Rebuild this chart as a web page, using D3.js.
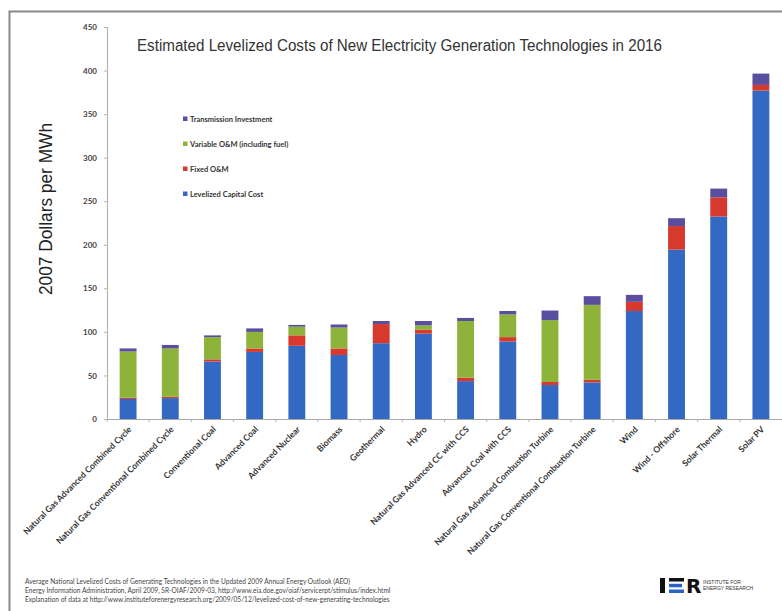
<!DOCTYPE html>
<html>
<head>
<meta charset="utf-8">
<script src="https://cdn.jsdelivr.net/npm/d3@7"></script>
<style>
  html, body { margin: 0; padding: 0; background: #fff; }
  svg { display: block; }
</style>
</head>
<body>
<svg id="chart" width="782" height="611"></svg>
<script>
// Levelized cost components (2007 $/MWh), plants entering service in 2016
const categories = [
  "Natural Gas Advanced Combined Cycle",
  "Natural Gas Conventional Combined Cycle",
  "Conventional Coal",
  "Advanced Coal",
  "Advanced Nuclear",
  "Biomass",
  "Geothermal",
  "Hydro",
  "Natural Gas Advanced CC with CCS",
  "Advanced Coal with CCS",
  "Natural Gas Advanced Combustion Turbine",
  "Natural Gas Conventional Combustion Turbine",
  "Wind",
  "Wind - Offshore",
  "Solar Thermal",
  "Solar PV"
];
const capitalCost   = [23, 24, 66, 77, 84, 73.5, 87, 98, 43.5, 89, 39, 42, 124, 194.5, 232.5, 377];
const fixedOM       = [1.5, 1.5, 2.5, 4, 12, 7.5, 22, 4.5, 4, 5, 3.5, 3, 10.5, 27, 22, 6.5];
const variableOM    = [53, 55.5, 25.5, 19, 10, 24, 0, 5, 65, 26, 71, 86, 0, 0, 0, 0];
const transmission  = [3.5, 4, 2, 4, 2, 3.5, 3.5, 5, 3.5, 4, 11, 10, 8, 9, 10, 13];

const seriesKeys   = ["capital", "fixed", "variable", "transmission"];
const seriesLabels = ["Levelized Capital Cost", "Fixed O&M", "Variable O&M (including fuel)", "Transmission Investment"];
const yTicks = [0, 50, 100, 150, 200, 250, 300, 350, 400, 450];

const colors = {
  capital: "#3369c2",
  fixed: "#d7392c",
  variable: "#8db33b",
  transmission: "#5a4f9f"
};

const rows = categories.map((c, i) => ({
  name: c,
  capital: capitalCost[i],
  fixed: fixedOM[i],
  variable: variableOM[i],
  transmission: transmission[i]
}));

const svg = d3.select("#chart");
const W = 782, H = 611;
const plot = { left: 107, right: 782, top: 27, bottom: 419 };

// Frame around the slide
svg.append("path")
  .attr("d", `M9.5,${H} L9.5,11.5 L${W},11.5`)
  .attr("fill", "none")
  .attr("stroke", "#8a8a8a")
  .attr("stroke-width", 2);

const x = d3.scaleBand()
  .domain(categories)
  .range([plot.left, plot.right])
  .paddingInner(0.6)
  .paddingOuter(0.3);

const y = d3.scaleLinear()
  .domain([0, 450])
  .range([plot.bottom, plot.top]);

const stack = d3.stack().keys(seriesKeys);
const stacked = stack(rows);

// Stacked bars
svg.append("g")
  .selectAll("g")
  .data(stacked)
  .join("g")
  .attr("fill", d => colors[d.key])
  .selectAll("rect")
  .data(d => d)
  .join("rect")
  .attr("x", d => x(d.data.name))
  .attr("width", x.bandwidth())
  .attr("y", d => y(d[1]))
  .attr("height", d => Math.max(0, y(d[0]) - y(d[1])));

// Y axis
const yAxis = svg.append("g")
  .attr("transform", `translate(${plot.left},0)`)
  .call(d3.axisLeft(y).tickValues(yTicks).tickSize(3).tickPadding(7));
yAxis.select(".domain").attr("stroke", "#b5b5b5").attr("stroke-width", 1.2);
yAxis.selectAll(".tick line").attr("stroke", "#b5b5b5");
yAxis.selectAll(".tick text")
  .attr("fill", "#444")
  .style("font-family", "Lato, 'Open Sans', sans-serif")
  .style("font-size", "8px")
  .style("font-weight", "bold");

// X axis: baseline with ticks between categories
const xg = svg.append("g");
xg.append("line")
  .attr("x1", plot.left).attr("x2", plot.right)
  .attr("y1", y(0) + 0.5).attr("y2", y(0) + 0.5)
  .attr("stroke", "#a8a8a8").attr("stroke-width", 1.2);
xg.selectAll("line.sep")
  .data(categories)
  .join("line")
  .attr("class", "sep")
  .attr("x1", d => x(d) - x.step() * x.paddingInner() / 2)
  .attr("x2", d => x(d) - x.step() * x.paddingInner() / 2)
  .attr("y1", y(0)).attr("y2", y(0) + 3)
  .attr("stroke", "#b5b5b5");

// Rotated category labels, anchored under each bar
xg.selectAll("text.cat")
  .data(categories)
  .join("text")
  .attr("class", "cat")
  .attr("transform", d => `translate(${x(d) + x.bandwidth() / 2 + 4},${y(0) + 11}) rotate(-45)`)
  .attr("text-anchor", "end")
  .attr("fill", "#333")
  .style("font-family", "Lato, 'Open Sans', sans-serif")
  .style("font-size", "8.6px")
  .style("font-weight", "bold")
  .text(d => d);

// Y axis title
svg.append("text")
  .attr("transform", "translate(52,209) rotate(-90)")
  .attr("text-anchor", "middle")
  .attr("fill", "#222")
  .attr("textLength", 172)
  .attr("lengthAdjust", "spacingAndGlyphs")
  .style("font-family", "'Liberation Sans', Arial, sans-serif")
  .style("font-size", "18px")
  .text("2007 Dollars per MWh");

// Chart title
svg.append("text")
  .attr("x", 399.5)
  .attr("y", 51)
  .attr("text-anchor", "middle")
  .attr("fill", "#333")
  .attr("textLength", 525)
  .attr("lengthAdjust", "spacingAndGlyphs")
  .style("font-family", "'Liberation Sans', Arial, sans-serif")
  .style("font-size", "16px")
  .text("Estimated Levelized Costs of New Electricity Generation Technologies in 2016");

// Legend (top entry is the top of the stack)
const legendOrder = seriesKeys.slice().reverse();
const legend = svg.append("g")
  .selectAll("g")
  .data(legendOrder)
  .join("g")
  .attr("transform", (d, i) => `translate(185,${119 + i * 25})`);
legend.append("rect")
  .attr("x", -2).attr("y", -2.5)
  .attr("width", 4.5).attr("height", 4.5)
  .attr("fill", d => colors[d]);
legend.append("text")
  .attr("x", 5)
  .attr("y", 2.5)
  .attr("fill", "#333")
  .style("font-family", "Lato, 'Open Sans', sans-serif")
  .style("font-size", "7.5px")
  .style("font-weight", "bold")
  .text(d => seriesLabels[seriesKeys.indexOf(d)]);

// Source notes
const notes = [
  "Average National Levelized Costs of Generating Technologies in the Updated 2009 Annual Energy Outlook (AEO)",
  "Energy Information Administration, April 2009, SR-OIAF/2009-03, http://www.eia.doe.gov/oiaf/servicerpt/stimulus/index.html",
  "Explanation of data at http://www.instituteforenergyresearch.org/2009/05/12/levelized-cost-of-new-generating-technologies"
];
svg.append("g")
  .selectAll("text")
  .data(notes)
  .join("text")
  .attr("x", 25)
  .attr("y", (d, i) => 584 + i * 9)
  .attr("fill", "#444")
  .style("font-family", "Lato, 'Open Sans', sans-serif")
  .style("font-size", "6.6px")
  .text(d => d);

// IER logo
const logo = svg.append("g").attr("transform", "translate(660,578)");
logo.append("rect").attr("x", 0).attr("y", 0).attr("width", 5).attr("height", 15).attr("fill", "#111");
logo.append("rect").attr("x", 9).attr("y", 0).attr("width", 15).attr("height", 3.5).attr("fill", "#111");
logo.append("rect").attr("x", 9).attr("y", 5.8).attr("width", 13).attr("height", 3.5).attr("fill", "#2a63c4");
logo.append("rect").attr("x", 9).attr("y", 11.5).attr("width", 15).attr("height", 3.5).attr("fill", "#2a63c4");
logo.append("text")
  .attr("x", 26).attr("y", 15)
  .attr("fill", "#111")
  .style("font-family", "'DejaVu Sans', sans-serif")
  .style("font-size", "20px")
  .style("font-weight", "bold")
  .text("R");
logo.append("text")
  .attr("x", 43).attr("y", 6)
  .attr("fill", "#333")
  .style("font-family", "'Liberation Sans', sans-serif")
  .style("font-size", "5px")
  .text("INSTITUTE FOR");
logo.append("text")
  .attr("x", 43).attr("y", 12)
  .attr("fill", "#333")
  .style("font-family", "'Liberation Sans', sans-serif")
  .style("font-size", "5px")
  .text("ENERGY RESEARCH");
</script>
</body>
</html>
